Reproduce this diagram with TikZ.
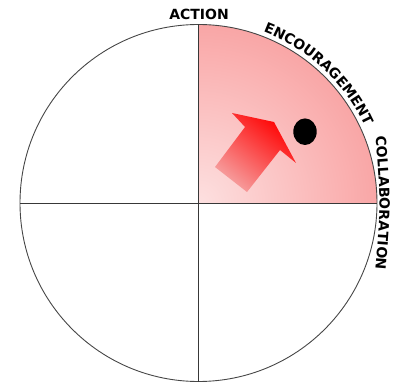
\documentclass[tikz,border=0pt]{standalone}
\usepackage{fontspec}
\newfontfamily\lblfamily{DejaVu Sans}
\usetikzlibrary{decorations.text,calc}
\newcommand\lblfont{\lblfamily\bfseries\fontsize{14}{14}\selectfont}
\definecolor{secin}{RGB}{253,224,224}
\definecolor{secout}{RGB}{249,166,166}
\definecolor{arrtail}{RGB}{246,160,160}
\definecolor{arrhead}{RGB}{255,0,0}
\definecolor{rimcol}{RGB}{70,70,70}
\tikzset{
  rim/.style={draw=rimcol, line width=0.9pt},
  axisline/.style={draw=rimcol!80!black, line width=0.9pt},
  lbl/.style={font=\lblfont, inner sep=0pt},
}
\begin{document}
\begin{tikzpicture}[x=1pt,y=1pt]
\useasboundingbox (0,0) rectangle (396,383);
\coordinate (O) at (198.5,180);
% shaded sector
\begin{scope}
  \clip (O) -- ++(0:178.5) arc[start angle=0,end angle=90,radius=178.5] -- cycle;
  \shade[inner color=secin, outer color=secout] (O) circle[radius=178.5];
\end{scope}
% circle and axes
\draw[rim] (O) circle[radius=178.5];
\coordinate (L) at ($(O)+(-178.5,0)$);
\coordinate (R) at ($(O)+(178.5,0)$);
\coordinate (T) at ($(O)+(0,178.5)$);
\coordinate (B) at ($(O)+(0,-178.5)$);
\draw[axisline] (L) -- (R);
\draw[axisline] (T) -- (B);
% arrow
\shade[top color=arrhead, bottom color=arrtail, shading angle=-39]
  (215,216) -- (245,256) -- (232,270) -- (274,261) -- (296,220) -- (280,233) -- (247,191) -- cycle;
% dot
\fill[black] (305,251.3) ellipse[x radius=11.7, y radius=13.3];
% labels
\node[lbl, anchor=base] (action) at (199,363) {ACTION};
\path[decorate, decoration={text along path, text={|\lblfont|ENCOURAGEMENT}, text align=center}]
  (O) ++(80:183) arc[start angle=80, end angle=14, radius=183];
\path[decorate, decoration={text along path, text={|\lblfont|COLLABORATION}, text align=center}]
  (375,253) .. controls (381,180) .. (375,107);
\end{tikzpicture}
\end{document}
